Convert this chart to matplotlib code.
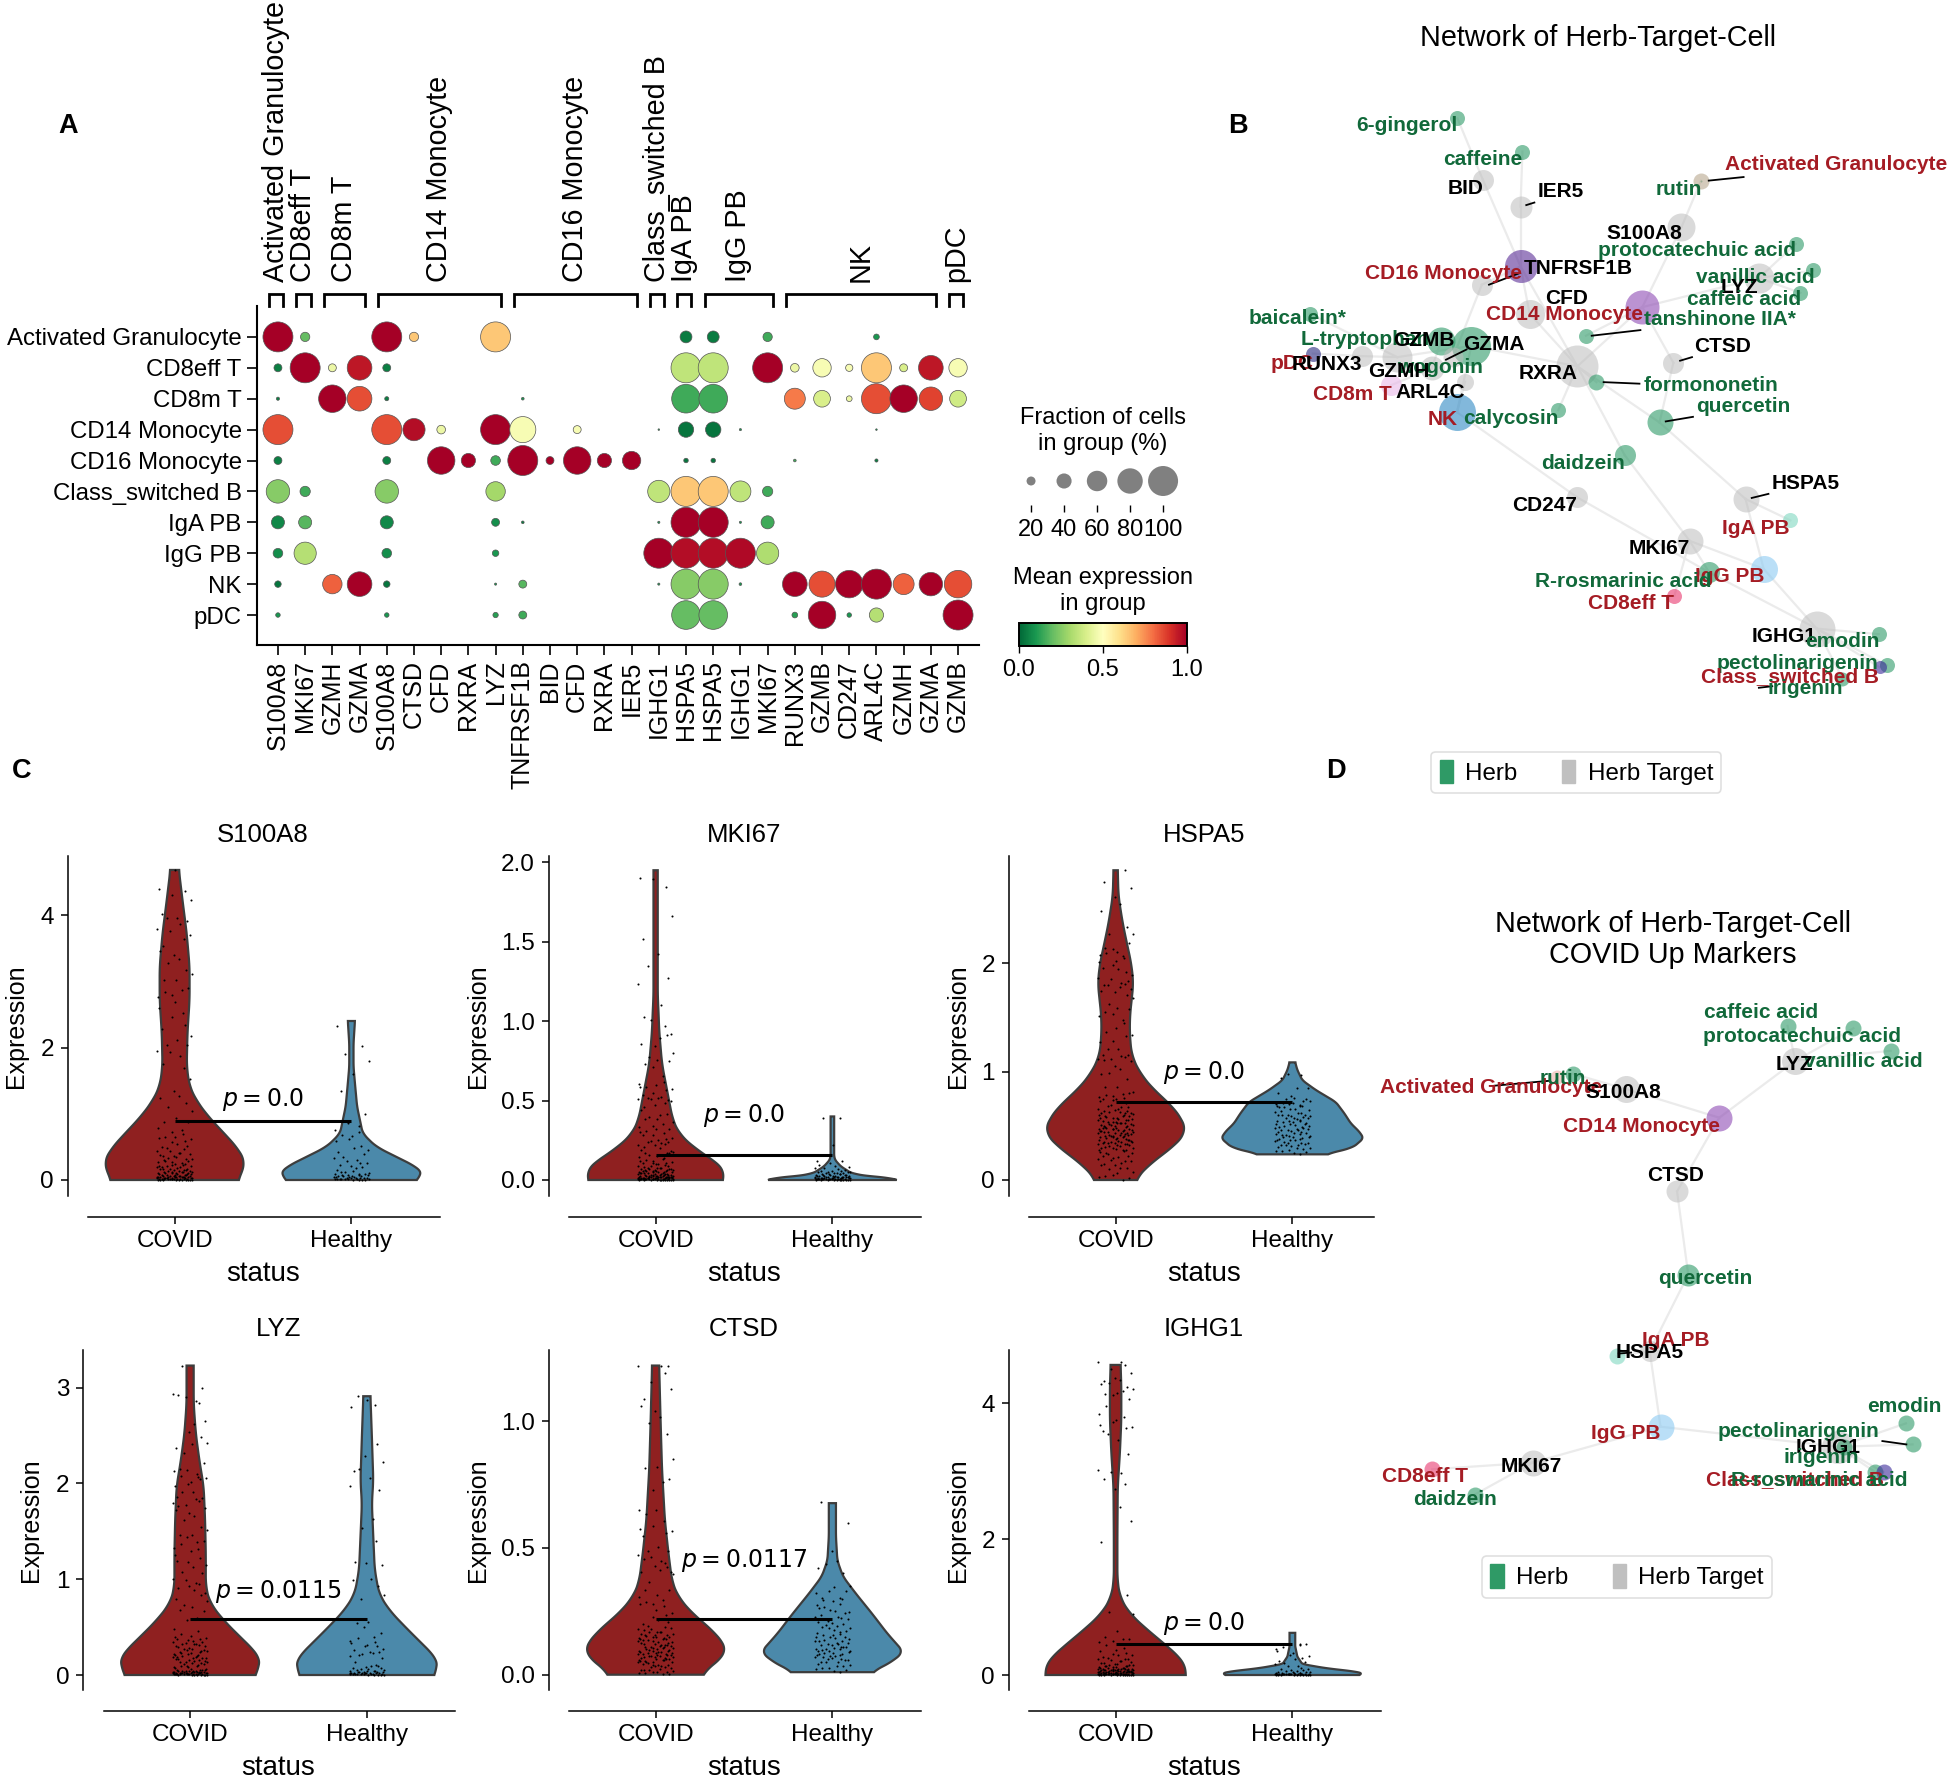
import numpy as np
import matplotlib
matplotlib.use("Agg")
import matplotlib.pyplot as plt
from matplotlib.cm import ScalarMappable
from matplotlib.colors import Normalize
from matplotlib.patches import Patch

plt.rcParams['font.family'] = ['Liberation Sans', 'DejaVu Sans']
W, H = 1949, 1782

# ---------------- Panel A: dot plot -----------------
CELL_TYPES = ["Activated Granulocyte", "CD8eff T", "CD8m T", "CD14 Monocyte", "CD16 Monocyte",
              "Class_switched B", "IgA PB", "IgG PB", "NK", "pDC"]
GENES = ["S100A8", "MKI67", "GZMH", "GZMA", "S100A8", "CTSD", "CFD", "RXRA", "LYZ", "TNFRSF1B", "BID", "CFD",
         "RXRA", "IER5", "IGHG1", "HSPA5", "HSPA5", "IGHG1", "MKI67", "RUNX3", "GZMB", "CD247", "ARL4C", "GZMH",
         "GZMA", "GZMB"]
GROUPS = ["Activated Granulocyte", "CD8eff T", "CD8m T", "CD14 Monocyte", "CD16 Monocyte", "Class_switched B",
          "IgA PB", "IgG PB", "NK", "pDC"]
GROUP_START = [0, 1, 2, 4, 9, 14, 15, 16, 19, 25]
GROUP_END = [0, 1, 3, 8, 13, 14, 15, 18, 24, 25]
# sparse readings: (row, column, percent of cells, mean expression)
DOT_ROW = [
    [(0,100,1.0),(1,21,.2),(4,100,1.0),(5,21,.65),(8,100,.65),(15,29,.04),(16,29,.04),(18,21,.15),(22,11,.1)],
    [(0,17,.05),(1,100,1.0),(2,17,.45),(3,77,.95),(4,17,.05),(15,100,.35),(16,100,.35),(18,100,1.0),(19,19,.45),
     (20,52,.48),(21,15,.48),(22,100,.65),(23,17,.4),(24,77,.95),(25,52,.48)],
    [(0,5,.05),(2,89,1.0),(3,77,.85),(4,7,.05),(9,4,.1),(15,94,.15),(16,94,.15),(19,62,.78),(20,46,.4),(21,11,.45),
     (22,100,.85),(23,89,1.0),(24,72,.87),(25,46,.38)],
    [(0,100,.85),(4,100,.85),(5,67,.97),(6,19,.45),(8,100,1.0),(9,83,.48),(11,17,.48),(14,2,.1),(15,41,.03),
     (16,41,.03),(17,3,.1),(22,2,.1)],
    [(0,17,.05),(4,17,.05),(6,89,1.0),(7,37,1.0),(8,22,.15),(9,100,1.0),(10,17,1.0),(11,89,1.0),(12,37,1.0),
     (13,52,1.0),(15,8,.03),(16,8,.03),(19,4,.15),(22,5,.05)],
    [(0,72,.25),(1,24,.15),(4,72,.25),(8,56,.3),(14,67,.35),(15,100,.65),(16,100,.65),(17,62,.35),(18,24,.15)],
    [(0,33,.07),(1,33,.18),(4,33,.07),(8,17,.08),(9,4,.05),(14,3,.1),(15,100,1.0),(16,100,1.0),(17,3,.1),(18,33,.15)],
    [(0,22,.08),(1,67,.33),(4,22,.08),(8,13,.1),(14,100,1.0),(15,100,.97),(16,100,.97),(17,100,.98),(18,67,.32)],
    [(0,13,.03),(2,56,.82),(3,77,1.0),(4,13,.03),(8,3,.1),(9,17,.18),(14,3,.1),(15,100,.25),(16,100,.25),(17,4,.1),
     (19,77,1.0),(20,83,.85),(21,89,1.0),(22,100,1.0),(23,62,.82),(24,72,1.0),(25,89,.85)],
    [(0,8,.1),(4,8,.1),(8,10,.12),(9,17,.15),(15,94,.2),(16,94,.2),(19,11,.12),(20,89,1.0),(21,8,.1),(22,37,.33),
     (25,100,1.0)],
]
LEGEND_PCT = [20, 40, 60, 80, 100]

# ---------------- Panel C: violins -----------------
PANELS = ["S100A8", "MKI67", "HSPA5", "LYZ", "CTSD", "IGHG1"]
STATUS = ["COVID", "Healthy"]
P_LABEL = ["0.0", "0.0", "0.0", "0.0115", "0.0117", "0.0"]
MEAN_LINE = [0.885, 0.16, 0.723, 0.588, 0.22, 0.45]
P_TEXT_Y = [1.21, 0.403, 0.99, 0.87, 0.45, 0.76]
Y_TICKS = [[0, 2, 4], [0, .5, 1, 1.5, 2], [0, 1, 2], [0, 1, 2, 3], [0, .5, 1], [0, 2, 4]]
Y_TICKLABELS = [["0","2","4"], ["0.0","0.5","1.0","1.5","2.0"], ["0","1","2"], ["0","1","2","3"], ["0.0","0.5","1.0"], ["0","2","4"]]

# outline: expression level and relative violin width (percent of the widest)
S100A8_C_Y = [0,.10,.25,.45,.70,.96,1.21,1.41,1.71,2.21,2.72,3.22,3.72,4.23,4.68]
S100A8_C_W = [88,94,100,91,70,47,30,21,17,18,21,21,17,11,6]
S100A8_H_Y = [0,.05,.10,.20,.35,.50,.70,1.11,1.46,1.71,2.06,2.40]
S100A8_H_W = [89,97,100,91,63,35,16,8,5,3,3,5]
MKI67_C_Y = [0,.04,.085,.135,.21,.29,.38,.52,.73,.94,1.07,1.15,1.95]
MKI67_C_W = [92,100,94,77,52,33,24,18,9,5,4,3,3]
MKI67_H_Y = [0,.008,.02,.04,.085,.125,.15,.40]
MKI67_H_W = [88,100,56,28,12,4,2.5,2.5]
HSPA5_C_Y = [0,.154,.31,.446,.55,.68,.83,.98,1.14,1.32,1.51,1.63,1.82,2.0,2.18,2.37,2.62,2.86]
HSPA5_C_W = [27,49,82,100,94,80,54,35,23,20,20,22,25,22,16,10,4,3]
HSPA5_H_Y = [.237,.26,.30,.385,.446,.523,.615,.72,.83,.92,1.015,1.086]
HSPA5_H_W = [45,62,85,100,94,82,73,61,33,14,7,4]
LYZ_C_Y = [0,.05,.14,.226,.40,.57,.75,.92,1.27,1.62,1.97,2.24,2.52,2.83,3.23]
LYZ_C_W = [89,96,100,94,70,47,28,22,22,21,19,13,8,5,5]
LYZ_H_Y = [0,.05,.12,.19,.33,.50,.68,.85,1.1,1.44,1.79,2.03,2.49,2.91]
LYZ_H_W = [92,99,100,96,77,54,31,17,11,9,7,9,7,5]
CTSD_C_Y = [0,.03,.084,.11,.176,.24,.31,.37,.48,.61,.81,1.0,1.22]
CTSD_C_W = [63,77,100,99,80,52,31,23,18,13,9,7,5]
CTSD_H_Y = [.01,.03,.058,.09,.163,.24,.32,.387,.45,.545,.677]
CTSD_H_W = [54,70,87,100,77,56,33,15,7,5,5]
IGHG1_C_Y = [0,.10,.22,.42,.66,.91,1.15,1.4,2.03,2.77,3.26,3.75,4.24,4.56]
IGHG1_C_W = [98,100,94,73,45,19,6,2.5,2.5,3,6,8,8,7]
IGHG1_H_Y = [0,.02,.05,.10,.16,.27,.42,.62]
IGHG1_H_W = [92,100,89,47,14,7,4,4]

# strip points: expression levels and how many cells sit around each level
S100A8_C_PTS = [0,.01,.03,.05,.07,.1,.13,.17,.21,.25,.3,.35,.41,.47,.55,.63,.72,.8,.92,1.05,1.2,1.35,1.53,1.65,1.8,1.95,2.1,2.3,2.5,2.7,2.9,3.1,3.3,3.5,3.7,3.9,4.0,4.25,4.4,4.68]
S100A8_C_N = [14,12,11,10,9,9,8,7,6,5,5,5,4,4,4,3,3,2,2,2,2,1,1,2,2,3,3,2,3,4,3,3,3,3,3,3,2,2,1,1]
S100A8_H_PTS = [0,.02,.04,.07,.1,.14,.2,.26,.32,.4,.5,.62,.75,.86,1.0,1.35,1.45,1.9,2.03,2.32]
S100A8_H_N = [10,9,8,6,4,3,3,3,3,3,3,3,2,1,1,1,2,1,1,1]
MKI67_C_PTS = [0,.005,.012,.02,.03,.045,.06,.075,.1,.12,.15,.18,.22,.25,.29,.32,.36,.4,.45,.5,.53,.58,.62,.73,.77,.82,.92,.96,1.03,1.27,1.35,1.42,1.52,1.66,1.81,1.9]
MKI67_C_N = [18,18,16,14,12,12,10,8,6,5,6,5,6,5,4,4,4,3,4,6,4,5,2,3,2,4,1,3,2,1,1,1,1,1,2,1]
MKI67_H_PTS = [0,.005,.012,.02,.03,.04,.05,.06,.08,.1,.12,.22,.39]
MKI67_H_N = [16,16,14,10,7,6,5,4,3,2,1,1,2]
HSPA5_C_PTS = [0,.05,.1,.15,.2,.25,.29,.33,.37,.41,.45,.49,.53,.57,.61,.65,.7,.75,.8,.9,1.0,1.1,1.15,1.25,1.35,1.45,1.55,1.62,1.72,1.8,1.88,2.0,2.1,2.2,2.32,2.5,2.65,2.86]
HSPA5_C_N = [5,3,4,6,6,7,9,12,12,14,13,12,11,9,8,6,6,5,4,3,3,5,4,4,3,3,3,3,5,6,5,6,4,2,2,2,2,1]
HSPA5_H_PTS = [.24,.28,.32,.36,.4,.44,.48,.52,.56,.6,.64,.68,.72,.76,.85,.92,.98]
HSPA5_H_N = [6,6,8,8,9,9,8,8,9,6,6,7,6,3,1,2,1]
LYZ_C_PTS = [0,.01,.02,.035,.05,.08,.11,.14,.17,.2,.24,.28,.32,.36,.4,.48,.57,.63,.7,.78,.85,.93,1.0,1.12,1.2,1.3,1.4,1.5,1.63,1.75,1.85,1.95,2.07,2.15,2.3,2.5,2.65,2.83,2.93,3.0,3.23]
LYZ_C_N = [14,14,12,10,6,5,6,7,7,8,7,6,6,5,3,1,2,2,3,2,4,3,3,4,3,4,4,3,4,5,4,6,4,2,5,2,1,4,1,1,1]
LYZ_H_PTS = [0,.01,.02,.03,.05,.07,.1,.19,.25,.3,.35,.43,.55,.78,.85,1.0,1.14,1.18,1.4,1.53,1.63,1.93,2.0,2.17,2.41,2.78,2.91]
LYZ_H_N = [10,8,8,6,5,4,3,6,3,4,3,3,1,2,2,1,2,1,1,1,1,2,3,2,1,3,1]
CTSD_C_PTS = [0,.01,.02,.035,.05,.065,.08,.095,.11,.125,.14,.155,.17,.19,.22,.25,.28,.31,.35,.4,.43,.47,.5,.55,.6,.65,.7,.77,.85,.92,1.0,1.08,1.13,1.22]
CTSD_C_N = [5,5,6,8,10,11,11,10,9,8,8,8,6,4,3,3,4,3,2,5,4,3,2,4,3,1,2,3,1,2,3,2,2,3]
CTSD_H_PTS = [.01,.03,.05,.07,.09,.11,.13,.15,.17,.19,.21,.24,.27,.3,.35,.39,.45,.49,.6,.68]
CTSD_H_N = [6,5,8,10,10,7,8,6,5,5,6,6,5,6,1,3,1,1,1,1]
IGHG1_C_PTS = [0,.01,.02,.04,.06,.08,.1,.13,.16,.2,.25,.3,.36,.42,.5,.56,.62,.92,1.18,1.95,2.2,2.75,2.95,3.0,3.45,3.6,3.75,4.05,4.2,4.3,4.45,4.6]
IGHG1_C_N = [16,16,14,14,12,10,8,6,5,5,4,3,2,2,3,1,2,1,1,1,3,2,2,2,3,5,3,5,4,4,2,2]
IGHG1_H_PTS = [0,.01,.02,.04,.07,.1,.16,.2,.25,.3,.38,.45]
IGHG1_H_N = [14,12,9,5,3,3,3,2,3,2,3,3]
JITTER = [-.93,.41,-.17,.78,-.58,.09,.97,-.36,.62,-.81,.24,-.05,.86,-.67,.51,-.26,.33,-.98,.7,-.45,.15,-.74,.92,-.12,.56,-.88,.03,.45,-.52]
LEVEL_NUDGE = [.62,.08,.91,.35,.77,.21,.5,.97,.13,.68,.29,.84,.43,.02,.57]

# ---------------- Panels B and D: networks -----------------
B_NODES = [  # name, kind, x, y, diameter
    ("6-gingerol","H",539,232,15),("caffeine","H",675,297,15),("BID","T",592,352,21),("IER5","T",671,405,22),
    ("rutin","H",1049,354,2),("Activated Granulocyte","#b8a88f",1049,354,16),("S100A8","T",1008,445,28),
    ("protocatechuic acid","H",1247,478,15),("vanillic acid","H",1284,530,15),("caffeic acid","H",1257,574,15),
    ("LYZ","T",1170,545,30),("CD16 Monocyte","#5a2d96",671,522,33),("CD14 Monocyte","#8e4bb5",926,602,34),
    ("TNFRSF1B","T",590,558,21),("CFD","T",690,615,29),("baicalein*","H",230,615,15),("tanshinone IIA*","H",808,658,15),
    ("CTSD","T",991,711,21),("RXRA","T",790,718,42),("formononetin","H",830,749,16),("quercetin","H",962,828,26),
    ("calycosin","H",750,804,15),("wogonin","H",568,678,39),("L-tryptophan","H",505,668,28),("RUNX3","T",340,698,21),
    ("GZMB","T",413,700,30),("GZMH","T",485,722,24),("GZMA","T",530,700,20),("ARL4C","T",555,748,17),
    ("pDC","#2a2a80",236,693,15),("CD8m T","#e8b8e8",400,755,21),("NK","#2f8ac4",538,808,37),("daidzein","H",889,892,21),
    ("CD247","T",790,975,21),("HSPA5","T",1142,978,26),("IgA PB","#7fd8c0",1236,1020,15),("MKI67","T",1025,1060,26),
    ("IgG PB","#8ccbf2",1180,1115,27),("R-rosmarinic acid","H",1066,1122,21),("CD8eff T","#e8386e",993,1168,15),
    ("IGHG1","T",1291,1232,36),("emodin","H",1421,1243,15),("pectolinarigenin","H",1438,1304,15),
    ("Class_switched B","#3b2a9a",1423,1308,13),("irigenin","H",1345,1330,14),
]
B_EDGES = [("6-gingerol","BID"),("BID","CD16 Monocyte"),("caffeine","IER5"),("IER5","CD16 Monocyte"),
    ("TNFRSF1B","CD16 Monocyte"),("CD16 Monocyte","CFD"),("CFD","RXRA"),("rutin","S100A8"),("S100A8","CD14 Monocyte"),
    ("LYZ","CD14 Monocyte"),("protocatechuic acid","LYZ"),("vanillic acid","LYZ"),("caffeic acid","LYZ"),
    ("CD14 Monocyte","CTSD"),("CTSD","quercetin"),("CD14 Monocyte","RXRA"),("tanshinone IIA*","CD14 Monocyte"),
    ("RXRA","formononetin"),("RXRA","quercetin"),("RXRA","daidzein"),("daidzein","MKI67"),("quercetin","HSPA5"),
    ("HSPA5","IgA PB"),("HSPA5","IgG PB"),("MKI67","IgG PB"),("MKI67","CD8eff T"),("MKI67","R-rosmarinic acid"),
    ("IgG PB","IGHG1"),("IGHG1","emodin"),("IGHG1","pectolinarigenin"),("IGHG1","irigenin"),("IGHG1","Class_switched B"),
    ("R-rosmarinic acid","IGHG1"),("CD247","NK"),("CD247","R-rosmarinic acid"),("RXRA","wogonin"),("wogonin","GZMB"),
    ("GZMB","RUNX3"),("RUNX3","pDC"),("baicalein*","GZMB"),("L-tryptophan","GZMH"),("NK","ARL4C"),("NK","wogonin"),
    ("calycosin","RXRA"),("CD8m T","GZMH"),("TNFRSF1B","GZMA"),("RXRA","CD16 Monocyte")]
B_LABELS = [  # text, kind, x, y
    ("6-gingerol","H",434,246),("caffeine","H",592,312),("BID","T",555,369),("IER5","T",756,375),
    ("Activated Granulocyte","C",1331,322),("rutin","H",1003,371),("S100A8","T",931,458),
    ("protocatechuic acid","H",1041,491),("TNFRSF1B","T",792,527),("CD16 Monocyte","C",509,536),
    ("vanillic acid","H",1162,543),("LYZ","T",1130,563),("CFD","T",768,585),("caffeic acid","H",1138,587),
    ("CD14 Monocyte","C",763,617),("baicalein*","H",205,624),("tanshinone IIA*","H",1089,627),
    ("L-tryptophan","H",345,665),("GZMB","T",468,667),("GZMA","T",615,676),("CTSD","T",1095,679),("pDC","C",192,713),
    ("RUNX3","T",265,715),("wogonin","H",503,720),("GZMH","T",417,728),("RXRA","T",728,732),("formononetin","H",1069,756),
    ("CD8m T","C",320,774),("ARL4C","T",482,770),("quercetin","H",1138,797),("NK","C",507,822),("calycosin","H",650,820),
    ("daidzein","H",801,908),("HSPA5","T",1268,947),("CD247","T",722,990),("IgA PB","C",1164,1035),("MKI67","T",962,1076),
    ("IgG PB","C",1109,1129),("R-rosmarinic acid","H",886,1140),("CD8eff T","C",903,1183),("IGHG1","T",1223,1248),
    ("emodin","H",1344,1258),("pectolinarigenin","H",1251,1300),("Class_switched B","C",1236,1327),("irigenin","H",1267,1349),
]
B_LEADERS = [(1138,347,1065,354),(700,397,683,402),(670,535,605,558),(558,685,515,705),(922,647,820,658),
             (1030,700,1005,707),(920,752,845,749),(1032,817,975,826),(1190,968,1155,976),(1198,1345,1170,1348)]

D_NODES = [
    ("caffeic acid","H",1178,305,16),("protocatechuic acid","H",1337,310,16),("vanillic acid","H",1427,357,16),
    ("LYZ","T",1197,378,27),("rutin","H",659,405,16),("Activated Granulocyte","#f0b0a8",620,412,14),("S100A8","T",787,437,27),
    ("CD14 Monocyte","#8e4bb5",1013,497,26),("CTSD","T",911,651,22),("quercetin","H",938,825,22),("HSPA5","T",845,985,21),
    ("IgA PB","#7fd8c0",765,995,16),("IgG PB","#8ccbf2",871,1143,26),("MKI67","T",562,1218,26),("CD8eff T","#e8386e",319,1232,16),
    ("daidzein","H",422,1285,16),("IGHG1","T",1300,1185,33),("emodin","H",1464,1136,16),("pectolinarigenin","H",1480,1180,16),
    ("irigenin","H",1315,1185,16),("R-rosmarinic acid","H",1390,1238,16),("Class_switched B","#3b2a9a",1410,1238,16),
]
D_EDGES = [("caffeic acid","LYZ"),("protocatechuic acid","LYZ"),("vanillic acid","LYZ"),("LYZ","CD14 Monocyte"),
    ("rutin","S100A8"),("S100A8","CD14 Monocyte"),("CD14 Monocyte","CTSD"),("CTSD","quercetin"),("quercetin","HSPA5"),
    ("HSPA5","IgA PB"),("HSPA5","IgG PB"),("IgG PB","MKI67"),("MKI67","CD8eff T"),("MKI67","daidzein"),("IgG PB","IGHG1"),
    ("IGHG1","emodin"),("IGHG1","pectolinarigenin"),("IGHG1","irigenin"),("IGHG1","R-rosmarinic acid"),("IGHG1","Class_switched B")]
D_LABELS = [
    ("caffeic acid","H",1115,278),("protocatechuic acid","H",1212,328),("vanillic acid","H",1360,380),("LYZ","T",1195,386),
    ("Activated Granulocyte","C",462,433),("rutin","H",634,415),("S100A8","T",782,445),("CD14 Monocyte","C",824,515),
    ("CTSD","T",907,617),("quercetin","H",978,834),("IgA PB","C",907,962),("HSPA5","T",845,988),("emodin","H",1460,1100),
    ("pectolinarigenin","H",1205,1152),("IGHG1","T",1276,1186),("irigenin","H",1260,1207),("IgG PB","C",787,1158),
    ("MKI67","T",558,1226),("CD8eff T","C",301,1247),("daidzein","H",374,1296),("Class_switched B","C",1197,1254),
    ("R-rosmarinic acid","H",1255,1255),
]
D_LEADERS = [(470,430,600,420),(800,988,770,990),(1407,1173,1465,1180)]

# ---------------------------------------------------------
fig = plt.figure(figsize=(W / 100, H / 100), dpi=100)

def ax_px(l, t, r, b, **kw):
    return fig.add_axes([l / W, 1 - b / H, (r - l) / W, (b - t) / H], **kw)

def px_to_pt(p):
    return p * 0.72

# Panel A
ax = ax_px(257, 306, 979, 645)
cmap = "RdYlGn_r"
xs, ys, ss, cs = [], [], [], []
for r, row in enumerate(DOT_ROW):
    for c, pct, val in row:
        xs.append(c); ys.append(r); cs.append(val)
        ss.append(px_to_pt(30) ** 2 * (pct / 100) ** 1.5)
ax.scatter(xs, ys, s=ss, c=cs, cmap=cmap, vmin=0, vmax=1, edgecolors="#555555", linewidths=0.5, zorder=3, clip_on=False)
ax.set_xlim(-0.77, 25.77)
ax.set_ylim(9.97, -1.0)
ax.set_xticks(range(len(GENES)))
ax.set_xticklabels(GENES, rotation=90, fontsize=18)
ax.set_yticks(range(len(CELL_TYPES)))
ax.set_yticklabels(CELL_TYPES, fontsize=17.3)
ax.tick_params(axis="both", length=7, width=1.2, pad=4)
for s in ("top", "right"):
    ax.spines[s].set_visible(False)
for s in ("left", "bottom"):
    ax.spines[s].set_linewidth(1.5)
tr = ax.get_xaxis_transform()
for name, a, b in zip(GROUPS, GROUP_START, GROUP_END):
    x0, x1 = a - 0.32, b + 0.2
    ax.plot([x0, x0, x1, x1], [1.0, 1.035, 1.035, 1.0], transform=tr, color="black", lw=2.0, clip_on=False,
            solid_joinstyle="miter")
    ax.text((x0 + x1) / 2 - 0.02, 1.07, name, transform=tr, rotation=90, ha="center", va="bottom", fontsize=20.7, clip_on=False)

# size legend
sax = ax_px(1019, 465, 1187, 505)
sax.set_xlim(12.7, 114.5)
sax.set_ylim(0, 1)
sax.scatter(LEGEND_PCT, [0.6] * 5, s=[px_to_pt(30) ** 2 * (p / 100) ** 1.5 for p in LEGEND_PCT], color="#808080", linewidths=0, clip_on=False)
sax.set_yticks([])
sax.set_xticks(LEGEND_PCT)
sax.set_xticklabels(LEGEND_PCT, fontsize=17)
sax.tick_params(axis="x", length=5, width=1, pad=5)
for s in sax.spines.values():
    s.set_visible(False)
fig.text(1103 / W, 1 - 431 / H, "Fraction of cells\nin group (%)", ha="center", va="center", fontsize=17, linespacing=1.25)

# color bar
cax = ax_px(1019, 623, 1187, 646)
cb = fig.colorbar(ScalarMappable(Normalize(0, 1), cmap), cax=cax, orientation="horizontal", ticks=[0, .5, 1])
cb.ax.set_xticklabels(["0.0", "0.5", "1.0"], fontsize=17)
cb.ax.tick_params(length=5, width=1, pad=4)
cb.outline.set_linewidth(1.4)
fig.text(1103 / W, 1 - 591 / H, "Mean expression\nin group", ha="center", va="center", fontsize=17, linespacing=1.25)

# Panel C
VIOLINS = [
    (S100A8_C_Y, S100A8_C_W, S100A8_C_PTS, S100A8_C_N, S100A8_H_Y, S100A8_H_W, S100A8_H_PTS, S100A8_H_N),
    (MKI67_C_Y, MKI67_C_W, MKI67_C_PTS, MKI67_C_N, MKI67_H_Y, MKI67_H_W, MKI67_H_PTS, MKI67_H_N),
    (HSPA5_C_Y, HSPA5_C_W, HSPA5_C_PTS, HSPA5_C_N, HSPA5_H_Y, HSPA5_H_W, HSPA5_H_PTS, HSPA5_H_N),
    (LYZ_C_Y, LYZ_C_W, LYZ_C_PTS, LYZ_C_N, LYZ_H_Y, LYZ_H_W, LYZ_H_PTS, LYZ_H_N),
    (CTSD_C_Y, CTSD_C_W, CTSD_C_PTS, CTSD_C_N, CTSD_H_Y, CTSD_H_W, CTSD_H_PTS, CTSD_H_N),
    (IGHG1_C_Y, IGHG1_C_W, IGHG1_C_PTS, IGHG1_C_N, IGHG1_H_Y, IGHG1_H_W, IGHG1_H_PTS, IGHG1_H_N),
]
LEFTS = [88, 569, 1029, 103.5, 569, 1029]
TOPS = [856, 856, 856, 1350, 1350, 1350]
Y_ZERO = [1180, 1180, 1180, 1675, 1674.7, 1675]
PX_PER_UNIT = [66.25, 158.85, 108.3, 95.8, 253.4, 68.0]
YLABEL_RIGHT = [28, 490, 970, 43, 490, 970]
SPINE_RIGHT = [1.5, 1.5, 1.46, 1.5, 1.5, 1.5]
COLORS = ["#8f2020", "#4b89aa"]

def draw_violin(ax, pos, ys, ws, pts, counts, color):
    grid = np.linspace(ys[0], ys[-1], 400)
    w = np.interp(grid, ys, ws)
    k = 13
    w = np.convolve(np.pad(w, k, mode="edge"), np.ones(2 * k + 1) / (2 * k + 1), mode="same")[k:-k]
    half = w / 100 * 0.403
    px = np.r_[pos - half, (pos + half)[::-1]]
    py = np.r_[grid, grid[::-1]]
    ax.fill(px, py, facecolor=color, edgecolor="#3d3d3d", lw=1.6, zorder=1)
    vals = []
    m = 0
    for j, (v, n) in enumerate(zip(pts, counts)):
        gap = pts[j + 1] - v if j + 1 < len(pts) else 0.0
        for _ in range(n):
            vals.append(v if n == 1 else v + gap * LEVEL_NUDGE[m % len(LEVEL_NUDGE)])
            m += 1
    off = np.resize(JITTER, len(vals)) * 0.1
    ax.scatter(pos + off, vals, s=2.2, color="black", linewidths=0, zorder=2)

for i, gene in enumerate(PANELS):
    l, t = LEFTS[i], TOPS[i]
    ax = ax_px(l, t, l + 350, t + 340)
    for s in ("top", "right"):
        ax.spines[s].set_visible(False)
    ax.spines["left"].set_position(("outward", px_to_pt(20)))
    ax.spines["bottom"].set_position(("outward", px_to_pt(20.5)))
    ax.spines["left"].set_linewidth(1.1)
    ax.spines["bottom"].set_linewidth(1.1)
    cy, cw, cp, cn, hy, hw, hp, hn = VIOLINS[i]
    draw_violin(ax, 0, cy, cw, cp, cn, COLORS[0])
    draw_violin(ax, 1, hy, hw, hp, hn, COLORS[1])
    ax.plot([0, 1], [MEAN_LINE[i]] * 2, color="black", lw=2.2, zorder=3, solid_capstyle="butt")
    ax.text(0.5, P_TEXT_Y[i], f"$p={P_LABEL[i]}$", ha="center", va="center", fontsize=17, zorder=4)
    ax.set_xlim(-0.49, 1.49)
    ax.set_ylim((Y_ZERO[i] - (t + 340)) / PX_PER_UNIT[i], (Y_ZERO[i] - t) / PX_PER_UNIT[i])
    ax.set_xticks([0, 1])
    ax.set_xticklabels(STATUS, fontsize=17.5)
    ax.set_yticks(Y_TICKS[i])
    ax.set_yticklabels(Y_TICKLABELS[i], fontsize=17.5)
    ax.tick_params(length=5, width=1.1, pad=5)
    ax.spines["bottom"].set_bounds(-0.49, SPINE_RIGHT[i])
    ax.set_title(gene, fontsize=18.5, pad=10)
    ax.set_xlabel("status", fontsize=20)
    ax.xaxis.set_label_coords(0.5, -0.19)
    ax.set_ylabel("Expression", fontsize=18)
    ax.yaxis.set_label_coords((YLABEL_RIGHT[i] - l) / 350, 0.5)
    ax.patch.set_alpha(0)

# Panels B, D
KIND_COLOR = {"H": "#2e9a68", "T": "#bdbdbd"}
TEXT_COLOR = {"H": "#11693a", "T": "black", "C": "#a51c24"}

def draw_network(box, ylim, nodes, edges, labels, leaders, title, title_y, legend_xy):
    ax = ax_px(*box)
    ax.set_xlim(0, 1568)
    ax.set_ylim(ylim, 0)
    ax.axis("off")
    ax.patch.set_alpha(0)
    pos = {n[0]: (n[2], n[3]) for n in nodes}
    for a, b in edges:
        ax.plot([pos[a][0], pos[b][0]], [pos[a][1], pos[b][1]], color="#ebebeb", lw=1.6, zorder=1)
    for name, kind, x, y, d in nodes:
        ax.scatter([x], [y], s=px_to_pt(d) ** 2, color=KIND_COLOR.get(kind, kind), alpha=0.6 if kind != "T" else 0.55, linewidths=0, zorder=2)
    for x0, y0, x1, y1 in leaders:
        ax.plot([x0, x1], [y0, y1], color="black", lw=1.3, zorder=3)
    for text, kind, x, y in labels:
        ax.text(x, y, text, color=TEXT_COLOR[kind], fontweight="bold", fontsize=15, ha="center", va="center", zorder=4)
    ax.text(title[0], title_y, title[1], ha="center", va="center", fontsize=20.7, linespacing=1.15, zorder=4)
    leg = ax.legend(handles=[Patch(color="#2f9a66", label="Herb"), Patch(color="#c0c0c0", label="Herb Target")],
                    ncol=2, loc="center", bbox_to_anchor=(legend_xy[0] / 1568, 1 - legend_xy[1] / ylim), fontsize=17.4,
                    frameon=True, fancybox=True, edgecolor="#d8d8d8", handlelength=0.55, handleheight=1.1, handletextpad=0.5,
                    columnspacing=1.85, borderpad=0.35)
    leg.get_frame().set_linewidth(1.2)
    return ax

draw_network((1200, 0, 1949, 800), 1568, B_NODES, B_EDGES, B_LABELS, B_LEADERS,
             (833, "Network of Herb-Target-Cell"), 75, (788, 1514))
draw_network((1300, 880, 1949, 1630), 1568, D_NODES, D_EDGES, D_LABELS, D_LEADERS,
             (900, "Network of Herb-Target-Cell\nCOVID Up Markers"), 124, (790, 1457))

for letter, x, y in [("A", 68, 126), ("B", 1238, 126), ("C", 22, 771), ("D", 1336, 771)]:
    fig.text(x / W, 1 - y / H, letter, fontweight="bold", fontsize=19.5, ha="center", va="center")

fig.savefig("out.png", dpi=100)
